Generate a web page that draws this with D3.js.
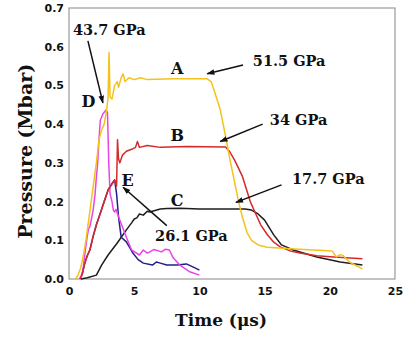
<!DOCTYPE html>
<html>
<head>
<meta charset="utf-8">
<script src="https://cdn.jsdelivr.net/npm/d3@7"></script>
<style>
  html, body { margin: 0; padding: 0; background: #fff; }
  svg text { font-family: 'DejaVu Serif', 'Liberation Serif', serif; font-weight: bold; fill: #111; }
  svg .tick text { font-family: 'DejaVu Sans', sans-serif; font-size: 11px; }
</style>
</head>
<body>
<div id="chart"></div>
<script>
// time (us), pressure (Mbar)
const curveA = [[0.5,0],[0.7,0.01],[0.9,0.03],[1.1,0.06],[1.3,0.1],[1.5,0.15],[1.7,0.2],[1.9,0.25],[2.1,0.3],
  [2.3,0.36],[2.5,0.385],[2.7,0.4],[2.9,0.44],[3.0,0.47],[3.07,0.585],[3.15,0.47],[3.3,0.465],[3.5,0.5],[3.7,0.51],
  [3.8,0.495],[4.0,0.52],[4.15,0.53],[4.3,0.51],[4.6,0.52],[5.0,0.515],[5.5,0.52],[6,0.515],[8,0.517],[10.6,0.517],
  [10.9,0.51],[11.2,0.48],[11.6,0.437],[12.0,0.37],[12.35,0.307],[12.7,0.25],[13.0,0.2],[13.3,0.16],[13.65,0.12],
  [14.0,0.1],[14.5,0.088],[15.2,0.082],[16.7,0.079],[18,0.076],[19.9,0.073],[20.2,0.072],[20.5,0.057],[20.8,0.063],
  [21.0,0.061],[21.5,0.044],[22.5,0.026]];
const curveB = [[0.85,0],[1.0,0.01],[1.2,0.04],[1.4,0.06],[1.6,0.075],[1.85,0.11],[2.1,0.14],[2.4,0.17],[2.7,0.2],
  [3.0,0.23],[3.3,0.245],[3.5,0.255],[3.65,0.24],[3.72,0.36],[3.8,0.31],[3.9,0.3],[4.1,0.32],[4.4,0.33],[4.8,0.335],
  [5.1,0.34],[5.25,0.355],[5.4,0.34],[6,0.345],[7,0.34],[9,0.342],[12.0,0.341],[12.3,0.33],[12.7,0.307],[13.3,0.265],
  [13.9,0.2],[14.3,0.17],[14.7,0.14],[15.2,0.115],[15.7,0.095],[16.2,0.083],[17,0.072],[17.7,0.067],[19,0.06],
  [20.3,0.057],[22.5,0.052]];
const curveC = [[0.9,0],[1.4,0.003],[2.1,0.01],[2.5,0.036],[3.0,0.062],[3.7,0.093],[4.4,0.127],[4.8,0.145],[5.0,0.155],
  [5.2,0.158],[5.4,0.168],[5.7,0.165],[6.0,0.175],[6.2,0.173],[7.0,0.181],[7.5,0.182],[8.5,0.183],[10,0.181],[12,0.181],
  [13.5,0.181],[14.0,0.178],[14.5,0.168],[15,0.152],[15.7,0.114],[16.3,0.088],[17.2,0.075],[19,0.057],[20.8,0.044],
  [22.5,0.036]];
const curveD = [[0.8,0],[0.95,0.01],[1.07,0.023],[1.2,0.06],[1.35,0.1],[1.5,0.13],[1.6,0.135],[1.75,0.16],[1.85,0.178],
  [2.0,0.22],[2.1,0.263],[2.2,0.3],[2.3,0.36],[2.4,0.41],[2.6,0.426],[2.85,0.437],[2.95,0.43],[3.05,0.3],[3.15,0.22],
  [3.3,0.2],[3.4,0.178],[3.5,0.173],[3.6,0.18],[3.9,0.152],[4.4,0.108],[4.8,0.075],[5.4,0.062],[5.7,0.075],[6.0,0.067],
  [6.2,0.07],[6.5,0.076],[7.1,0.07],[7.4,0.077],[7.7,0.075],[8.0,0.054],[8.5,0.036],[9.3,0.018],[10,0.01]];
const curveE = [[1.0,0.01],[1.2,0.04],[1.4,0.06],[1.6,0.075],[1.85,0.11],[2.1,0.14],[2.4,0.17],[2.7,0.2],[3.0,0.23],
  [3.3,0.247],[3.5,0.256],[3.65,0.22],[3.8,0.16],[4.0,0.108],[4.4,0.096],[4.9,0.067],[5.3,0.05],[5.7,0.041],
  [6.4,0.036],[6.7,0.044],[7.0,0.041],[7.5,0.036],[8.3,0.036],[9.0,0.039],[9.7,0.028],[10,0.023]];

const xTicks = [0, 5, 10, 15, 20, 25];
const yTicks = [0, 0.1, 0.2, 0.3, 0.4, 0.5, 0.6, 0.7];

// curve letters: [time, pressure]
const curveLabels = [
  {text: 'A', t: 8.3, p: 0.545},
  {text: 'B', t: 8.3, p: 0.37},
  {text: 'C', t: 8.3, p: 0.203},
  {text: 'D', t: 1.5, p: 0.46},
  {text: 'E', t: 4.5, p: 0.255}
];
// pressure callouts: text start point and arrow [from -> tip]
const callouts = [
  {text: '43.7 GPa', t: 0.3, p: 0.643, from: [1.45, 0.615], to: [2.6, 0.455]},
  {text: '51.5 GPa', t: 14.1, p: 0.563, from: [13.35, 0.553], to: [10.6, 0.53]},
  {text: '34 GPa', t: 15.4, p: 0.41, from: [14.85, 0.4], to: [11.6, 0.355]},
  {text: '17.7 GPa', t: 17.1, p: 0.258, from: [16.3, 0.243], to: [12.8, 0.198]},
  {text: '26.1 GPa', t: 6.6, p: 0.111, from: [7.5, 0.138], to: [4.15, 0.237]}
];

const config = {
  totalWidth: 404,
  totalHeight: 337,
  margin: {top: 8, right: 9, bottom: 58, left: 69}
};
config.width = config.totalWidth - config.margin.left - config.margin.right;
config.height = config.totalHeight - config.margin.top - config.margin.bottom;

const xScale = d3.scaleLinear().domain([0, 25]).range([0, config.width]);
const yScale = d3.scaleLinear().domain([0, 0.7]).range([config.height, 0]);
const line = d3.line().x(d => xScale(d[0])).y(d => yScale(d[1]));

const svg = d3.select('#chart').append('svg')
  .attr('width', config.totalWidth)
  .attr('height', config.totalHeight);

svg.append('defs').append('marker')
  .attr('id', 'arrow')
  .attr('viewBox', '0 0 10 10')
  .attr('refX', 9).attr('refY', 5)
  .attr('markerWidth', 8).attr('markerHeight', 8)
  .attr('markerUnits', 'userSpaceOnUse')
  .attr('orient', 'auto')
  .append('path')
  .attr('d', 'M0,1.5 L10,5 L0,8.5 Z')
  .attr('fill', '#111');

const g = svg.append('g')
  .attr('transform', `translate(${config.margin.left},${config.margin.top})`);

g.append('rect')
  .attr('width', config.width)
  .attr('height', config.height)
  .attr('fill', '#fff')
  .attr('stroke', '#9a9a9a')
  .attr('stroke-width', 1.2);

// tick labels only, the original has no tick marks
g.append('g').call(d3.axisBottom(xScale).tickValues(xTicks).tickSize(0).tickPadding(8))
  .attr('transform', `translate(0,${config.height})`)
  .attr('font-family', null).attr('font-size', null)
  .call(a => a.select('.domain').remove());

g.append('g').call(d3.axisLeft(yScale).tickValues(yTicks).tickFormat(d3.format('.1f')).tickSize(0).tickPadding(5))
  .attr('font-family', null).attr('font-size', null)
  .call(a => a.select('.domain').remove());

const series = [
  {data: curveC, color: '#1e1e1e'},
  {data: curveE, color: '#1f1f8a'},
  {data: curveD, color: '#e845e6'},
  {data: curveB, color: '#d62a2a'},
  {data: curveA, color: '#f4c21c'}
];
series.forEach(s => {
  g.append('path')
    .datum(s.data)
    .attr('fill', 'none')
    .attr('stroke', s.color)
    .attr('stroke-width', 1.5)
    .attr('stroke-linejoin', 'round')
    .attr('d', line);
});

g.selectAll('.curveLabel')
  .data(curveLabels)
  .enter()
  .append('text')
  .attr('x', d => xScale(d.t))
  .attr('y', d => yScale(d.p))
  .attr('dy', '0.35em')
  .attr('text-anchor', 'middle')
  .style('font-size', '16px')
  .text(d => d.text);

g.selectAll('.callout')
  .data(callouts)
  .enter()
  .append('text')
  .attr('x', d => xScale(d.t))
  .attr('y', d => yScale(d.p))
  .attr('dy', '0.35em')
  .attr('text-anchor', 'start')
  .style('font-size', '14.5px')
  .text(d => d.text);

g.selectAll('.arrow')
  .data(callouts)
  .enter()
  .append('line')
  .attr('x1', d => xScale(d.from[0]))
  .attr('y1', d => yScale(d.from[1]))
  .attr('x2', d => xScale(d.to[0]))
  .attr('y2', d => yScale(d.to[1]))
  .attr('stroke', '#111')
  .attr('stroke-width', 1.5)
  .attr('marker-end', 'url(#arrow)');

// axis titles
svg.append('text')
  .attr('x', 221)
  .attr('y', 326)
  .attr('text-anchor', 'middle')
  .style('font-size', '17px')
  .text('Time (\u03bcs)');

svg.append('text')
  .attr('transform', `translate(25,${config.margin.top + yScale(0.33)}) rotate(-90)`)
  .attr('dy', '0.35em')
  .attr('text-anchor', 'middle')
  .style('font-size', '19px')
  .text('Pressure (Mbar)');
</script>
</body>
</html>
